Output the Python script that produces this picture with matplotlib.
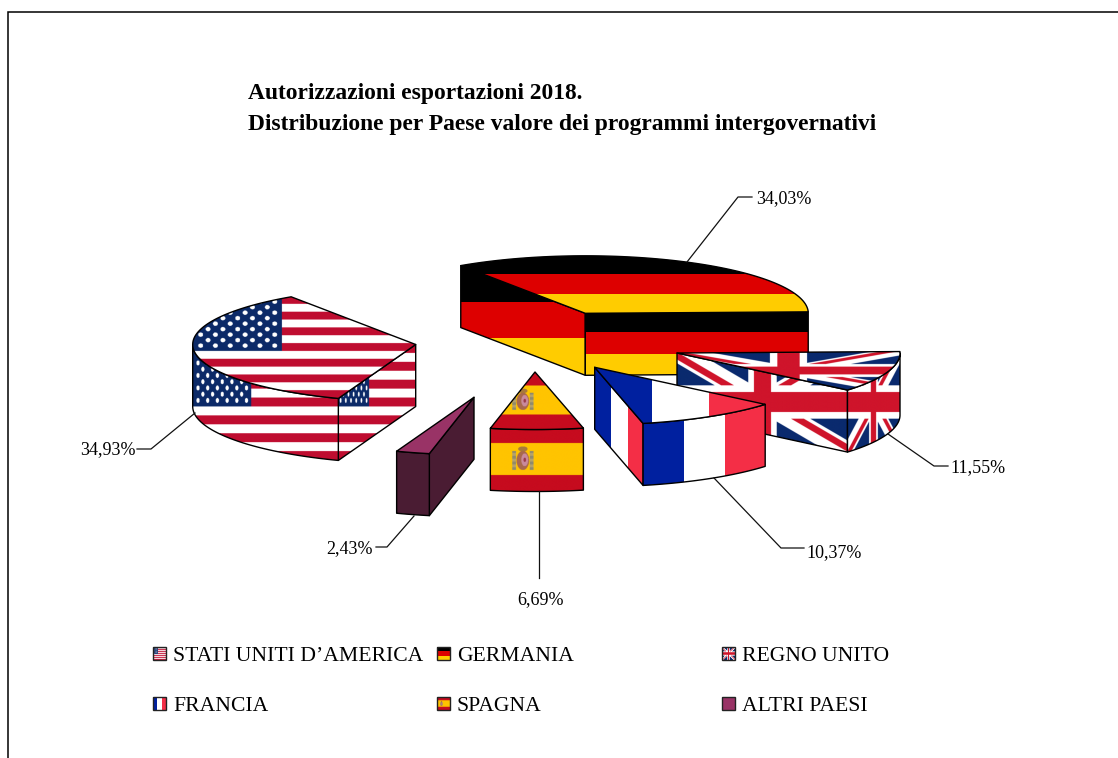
import numpy as np
import matplotlib
matplotlib.use("Agg")
import matplotlib.pyplot as plt
from matplotlib.patches import Polygon, Rectangle

# data
paesi = ["STATI UNITI D\u2019AMERICA", "GERMANIA", "REGNO UNITO", "FRANCIA", "SPAGNA", "ALTRI PAESI"]
quote = [34.93, 34.03, 11.55, 10.37, 6.69, 2.43]
etichette = ["34,93%", "34,03%", "11,55%", "10,37%", "6,69%", "2,43%"]
titolo = ["Autorizzazioni esportazioni 2018.",
          "Distribuzione per Paese valore dei programmi intergovernativi"]

# pie layout, in pixels (slices were dragged by hand in the original)
START = -159.7
RX, RY, DEPTH = 223, 57.5, 62
apici = [(415.7, 344.5), (585.3, 313.3), (677, 353), (594.7, 367.3), (535, 372), (474, 397.3)]
# which cut walls face the viewer: 0 = start angle, 1 = end angle
tagli_visibili = [[0], [0, 1], [1], [1], [], [0]]

# leader lines: points, label x, label baseline, alignment
leader = [
    ([(195, 413), (151, 449), (137, 449)], 136, 454, "right"),
    ([(687, 262), (738, 197), (752, 197)], 756, 203, "left"),
    ([(888, 434), (934, 466), (948, 466)], 950, 472, "left"),
    ([(714, 478), (781, 548), (804, 548)], 806, 557, "left"),
    ([(539, 491), (539, 578)], 540, 604, "center"),
    ([(414, 516), (387, 547), (376, 547)], 373, 553, "right"),
]
legenda_x = [153, 437, 722]
legenda_y = [661, 711]

SERIF = "Liberation Serif"
VIOLA = "#993366"
VIOLA_SCURO = "#4a1c33"


def rgb(c):
    return np.array(matplotlib.colors.to_rgb(c))


def flag_germany():
    return np.array([[rgb("#000000")], [rgb("#dd0000")], [rgb("#ffcc00")]])


def flag_france():
    return np.array([[rgb("#00209f"), rgb("#ffffff"), rgb("#f42e46")]])


def flag_usa():
    h, w = 260, 494
    img = np.ones((h, w, 3))
    for i in range(0, 13, 2):
        img[i * h // 13:(i + 1) * h // 13] = rgb("#bf0d30")
    ch, cw = 7 * h // 13, int(w * 0.4)
    img[:ch, :cw] = rgb("#0c2a68")
    yy, xx = np.mgrid[0:h, 0:w]
    for r in range(9):
        n = 6 if r % 2 == 0 else 5
        for c in range(n):
            sx = (c + (0.5 if r % 2 == 0 else 1.0)) * cw / 6
            sy = (r + 1) * ch / 10
            img[(xx - sx) ** 2 + (yy - sy) ** 2 < 5.5 ** 2] = 1.0
    return img


def flag_uk():
    h, w = 240, 480
    yy, xx = np.mgrid[0:h, 0:w]
    x = (xx + 0.5 - w / 2) / h * 30
    y = (h / 2 - yy - 0.5) / h * 30
    img = np.ones((h, w, 3)) * rgb("#0a2a6e")
    d1 = (y + x / 2) / np.sqrt(1.25)   # diagonal through upper left
    d2 = (y - x / 2) / np.sqrt(1.25)   # diagonal through upper right
    img[np.abs(d1) < 3] = 1.0
    img[np.abs(d2) < 3] = 1.0
    red = rgb("#cf142b")
    img[(d1 < 0) & (d1 > -2) & (x < 0) & (y > 0)] = red
    img[(d1 > 0) & (d1 < 2) & (x > 0) & (y < 0)] = red
    img[(d2 > 0) & (d2 < 2) & (x > 0) & (y > 0)] = red
    img[(d2 < 0) & (d2 > -2) & (x < 0) & (y < 0)] = red
    img[(np.abs(x) < 5) | (np.abs(y) < 5)] = 1.0
    img[(np.abs(x) < 3) | (np.abs(y) < 3)] = red
    return img


def flag_spain():
    h, w = 200, 300
    img = np.ones((h, w, 3)) * rgb("#ffc400")
    img[:h // 4] = rgb("#c60b1e")
    img[3 * h // 4:] = rgb("#c60b1e")
    yy, xx = np.mgrid[0:h, 0:w]
    cx, cy = w * 0.348, h * 0.5
    # columns either side of the coat of arms
    img[(np.abs(np.abs(xx - cx) - 28) < 6) & (np.abs(yy - cy - 4) < 30)] = rgb("#b5a26a")
    img[(np.abs(np.abs(xx - cx) - 28) < 6) & (np.abs(yy - cy - 4) < 30) & ((yy // 9) % 2 == 0)] = rgb("#8f8a6e")
    img[((xx - cx) / 20) ** 2 + ((yy - cy - 4) / 30) ** 2 < 1] = rgb("#a8684c")
    img[((xx - cx - 6) / 11) ** 2 + ((yy - cy - 2) / 20) ** 2 < 1] = rgb("#c98a9c")
    img[((xx - cx - 6) / 4) ** 2 + ((yy - cy - 2) / 7) ** 2 < 1] = rgb("#9a3a4a")
    img[((xx - cx) / 15) ** 2 + ((yy - cy + 32) / 8) ** 2 < 1] = rgb("#a87a3c")
    return img


def flag_altri():
    return np.array([[rgb(VIOLA)]])


bandiere = [flag_usa(), flag_germany(), flag_uk(), flag_france(), flag_spain(), flag_altri()]

fig = plt.figure(figsize=(11.18, 7.58), dpi=100)
ax = fig.add_axes([0, 0, 1, 1])
ax.set_xlim(0, 1118)
ax.set_ylim(758, 0)
ax.set_autoscale_on(False)
ax.axis("off")

# frame, only top and left are inside the picture
ax.plot([8.3, 8.3, 1118], [758, 12, 12], color="black", lw=1.1, solid_joinstyle="miter")


def arco(apice, t0, t1, dz=0):
    t = np.radians(np.linspace(t0, t1, 80))
    return np.column_stack([apice[0] + RX * np.sin(t), apice[1] - RY * np.cos(t) + dz])


def faccia(punti, img, colore, z):
    # paint a flag stretched on the bounding box of a polygon, clipped to it
    punti = np.asarray(punti)
    x0, y0 = punti.min(axis=0)
    x1, y1 = punti.max(axis=0)
    if colore is None:
        clip = Polygon(punti, closed=True, transform=ax.transData)
        ax.imshow(img, extent=(x0, x1, y1, y0), aspect="auto", origin="upper", zorder=z, clip_path=clip)
    ax.add_patch(Polygon(punti, closed=True, fc=colore if colore else "none", ec="black", lw=1.0,
                         joinstyle="round", zorder=z + 0.5))


angoli = START + np.concatenate([[0], np.cumsum(quote)]) * 3.6
z = 1
for i, (img, ap) in enumerate(zip(bandiere, apici)):
    t0, t1 = angoli[i], angoli[i + 1]
    colore_muro = VIOLA_SCURO if i == 5 else None
    colore_top = VIOLA if i == 5 else None

    # cut walls
    for k in tagli_visibili[i]:
        bordo = arco(ap, angoli[i + k], angoli[i + k])[0]
        pts = [ap, bordo, (bordo[0], bordo[1] + DEPTH), (ap[0], ap[1] + DEPTH)]
        faccia(pts, img, colore_muro, z)
        z += 1

    # outer wall, the part of the arc facing the viewer (90..270 degrees)
    base = t0 % 360 if t0 < 0 else t0
    a0 = max(base, 90)
    a1 = min(base + (t1 - t0), 270)
    if a0 < a1:
        alto = arco(ap, a0, a1)
        basso = arco(ap, a1, a0, DEPTH)
        faccia(np.vstack([alto, basso]), img, colore_muro, z)
        z += 1

    # top face
    top = np.vstack([[ap], arco(ap, t0, t1)])
    faccia(top, img, colore_top, z)
    z += 1

# leader lines and labels
for (punti, lx, ly, ha), testo in zip(leader, etichette):
    xs, ys = zip(*punti)
    ax.plot(xs, ys, color="#111111", lw=0.9, zorder=200)
    ax.text(lx, ly, testo, family=SERIF, fontsize=13, ha=ha, va="baseline", color="black", zorder=201)

# title
ax.text(248, 99, titolo[0], family=SERIF, fontsize=16.9, fontweight="bold", va="baseline", color="black")
ax.text(248, 130, titolo[1], family=SERIF, fontsize=16.9, fontweight="bold", va="baseline", color="black")

# legend
for i, (nome, img) in enumerate(zip(paesi, bandiere)):
    x = legenda_x[i % 3]
    y = legenda_y[i // 3]
    ax.imshow(img, extent=(x, x + 13, y - 1, y - 14), aspect="auto", origin="upper", zorder=300)
    ax.add_patch(Rectangle((x, y - 14), 13, 13, fc="none", ec="#222222", lw=1.0, zorder=301))
    ax.text(x + 20, y, nome, family=SERIF, fontsize=15.6, va="baseline", color="black")

fig.savefig("out.png", dpi=100, facecolor="white")
